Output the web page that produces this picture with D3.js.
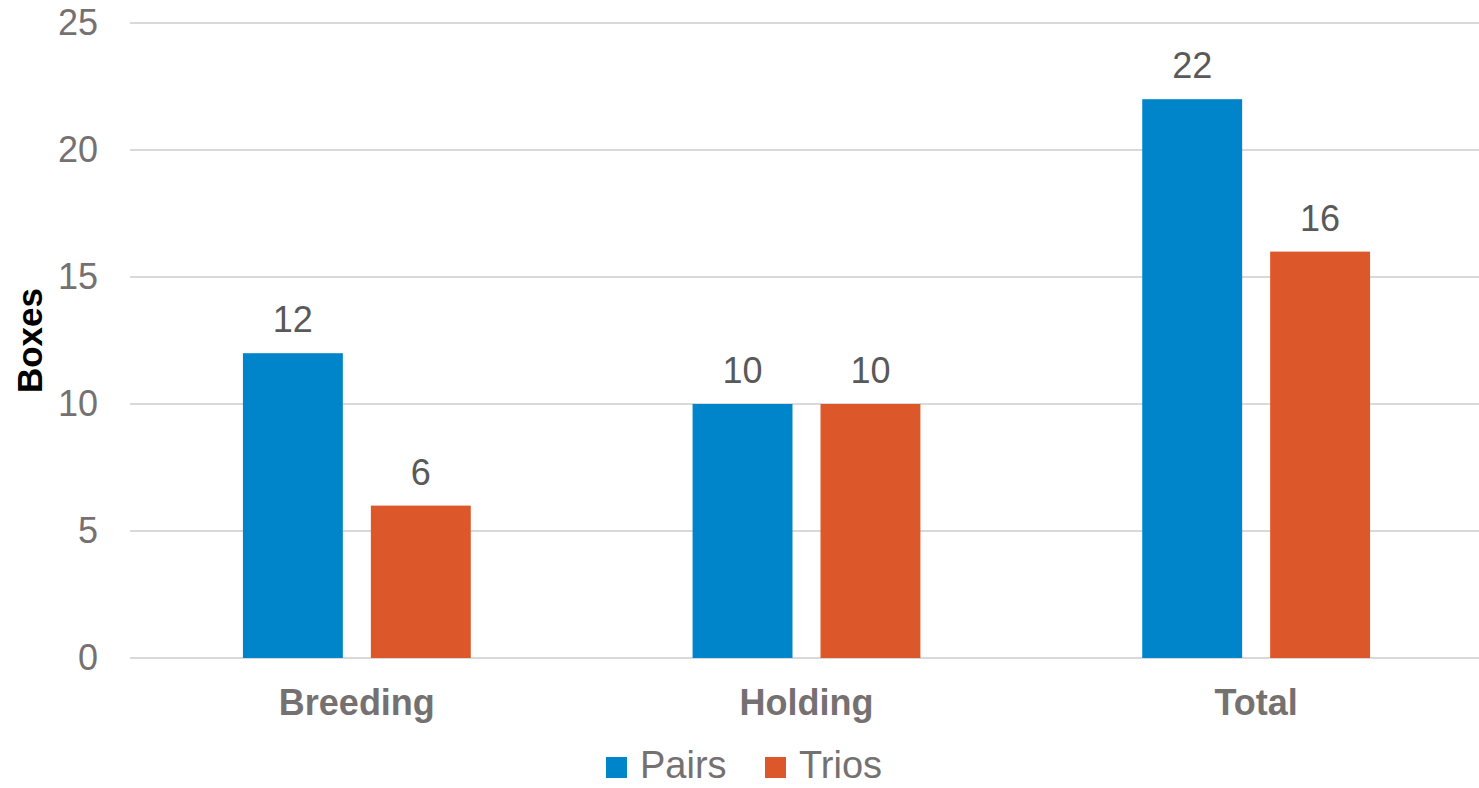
<!DOCTYPE html>
<html>
<head>
<meta charset="utf-8">
<script src="https://cdn.jsdelivr.net/npm/d3@7"></script>
<style>
  html, body { margin: 0; padding: 0; background: #fff; }
  svg { display: block; font-family: "Liberation Sans", Arial, sans-serif; }
</style>
</head>
<body>
<div id="chart"></div>
<script>
// ---- Data -------------------------------------------------------
const CATEGORIES = ['Breeding', 'Holding', 'Total'];
const SERIES = ['Pairs', 'Trios'];
const PAIRS = [12, 10, 22];
const TRIOS = [6, 10, 16];
const Y_TICKS = [0, 5, 10, 15, 20, 25];
const COLORS = ['#0085CA', '#DC582A'];

// ---- Layout -----------------------------------------------------
const W = 1479, H = 788;
const M = { top: 23, right: 0, bottom: 130, left: 130 };

const svg = d3.select('#chart').append('svg')
  .attr('width', W).attr('height', H);

const x0 = d3.scaleBand()
  .domain(CATEGORIES)
  .range([M.left + 2, W - M.right + 2])
  .paddingInner(0.4933)
  .paddingOuter(0.2467);

const x1 = d3.scaleBand()
  .domain(SERIES)
  .range([0, x0.bandwidth()])
  .paddingInner(0.219);

const y = d3.scaleLinear()
  .domain([0, 25])
  .range([H - M.bottom, M.top]);

// ---- Gridlines --------------------------------------------------
svg.append('g')
  .selectAll('line')
  .data(Y_TICKS)
  .join('line')
  .attr('x1', M.left).attr('x2', W - M.right)
  .attr('y1', d => y(d)).attr('y2', d => y(d))
  .attr('stroke', '#d9d9d9').attr('stroke-width', 2);

// ---- Y axis labels ----------------------------------------------
const yAxis = svg.append('g')
  .attr('transform', `translate(${M.left},0)`)
  .call(d3.axisLeft(y).tickValues(Y_TICKS).tickSize(0).tickPadding(32));
yAxis.select('.domain').remove();
yAxis.selectAll('text')
  .attr('font-size', 36)
  .attr('font-family', '"Liberation Sans", Arial, sans-serif')
  .attr('fill', '#767171');

svg.append('text')
  .attr('transform', `translate(42,${(y(0) + y(25)) / 2}) rotate(-90)`)
  .attr('text-anchor', 'middle')
  .attr('font-size', 35)
  .attr('font-weight', 'bold')
  .attr('fill', '#000')
  .text('Boxes');

// ---- Bars -------------------------------------------------------
const rows = CATEGORIES.map((c, i) => ({ cat: c, values: [PAIRS[i], TRIOS[i]] }));

const groups = svg.append('g')
  .selectAll('g')
  .data(rows)
  .join('g')
  .attr('transform', d => `translate(${x0(d.cat)},0)`);

const cells = groups.selectAll('g')
  .data(d => d.values.map((v, j) => ({ series: SERIES[j], value: v, j })))
  .join('g');

cells.append('rect')
  .attr('x', d => x1(d.series))
  .attr('y', d => y(d.value))
  .attr('width', x1.bandwidth())
  .attr('height', d => y(0) - y(d.value))
  .attr('fill', d => COLORS[d.j]);

cells.append('text')
  .attr('x', d => x1(d.series) + x1.bandwidth() / 2)
  .attr('y', d => y(d.value) - 21)
  .attr('text-anchor', 'middle')
  .attr('font-size', 36)
  .attr('fill', '#595959')
  .text(d => d.value);

// ---- X axis labels ----------------------------------------------
svg.append('g')
  .selectAll('text')
  .data(CATEGORIES)
  .join('text')
  .attr('x', d => x0(d) + x0.bandwidth() / 2)
  .attr('y', 715)
  .attr('text-anchor', 'middle')
  .attr('font-size', 36)
  .attr('font-weight', 'bold')
  .attr('fill', '#767171')
  .text(d => d);

// ---- Legend -----------------------------------------------------
const LEG_X = [606, 765];
const legend = svg.append('g')
  .selectAll('g')
  .data(SERIES)
  .join('g')
  .attr('transform', (d, i) => `translate(${LEG_X[i]},0)`);

legend.append('rect')
  .attr('x', 0).attr('y', 757)
  .attr('width', 21).attr('height', 21)
  .attr('fill', (d, i) => COLORS[i]);

legend.append('text')
  .attr('x', 34).attr('y', 778)
  .attr('font-size', 38)
  .attr('fill', '#767171')
  .text(d => d);
</script>
</body>
</html>
